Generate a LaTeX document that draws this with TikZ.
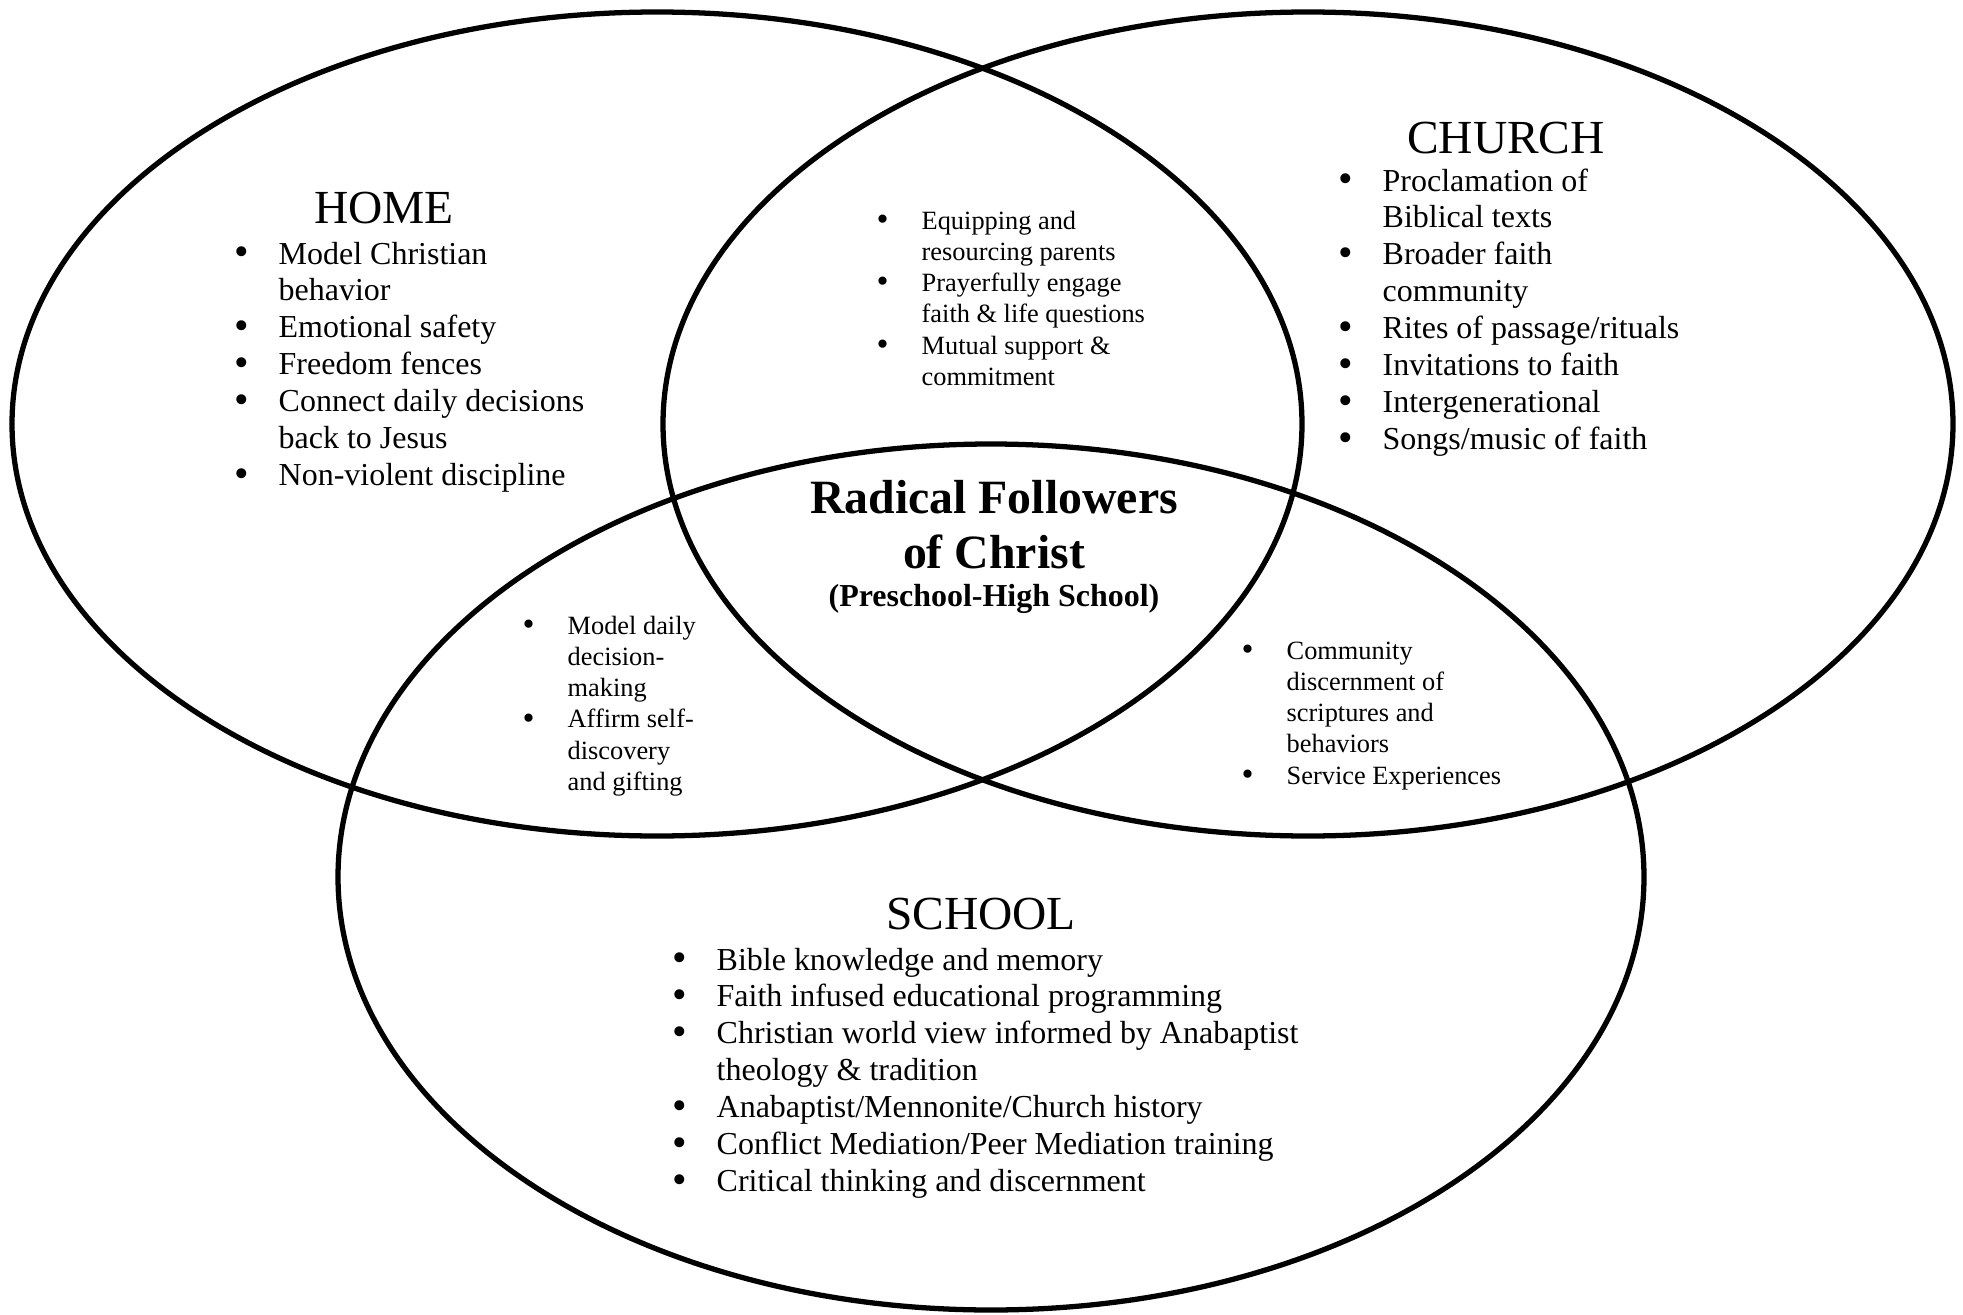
\documentclass[tikz,border=0pt]{standalone}
\usepackage{fontspec}
\setmainfont{Liberation Serif}
\usetikzlibrary{positioning}

\tikzstyle{ring} = [draw, line width=1.5pt]
\tikzstyle{head} = [inner sep=0pt, anchor=base, font=\fontsize{13.5}{16}\selectfont]
\tikzstyle{list} = [inner sep=0pt, anchor=base west, font=\fontsize{9.1}{10.52}\selectfont]
\tikzstyle{slist} = [inner sep=0pt, anchor=base west, font=\fontsize{7.5}{8.9}\selectfont]
\tikzstyle{title} = [inner sep=0pt, anchor=base, font=\bfseries\fontsize{13.6}{15.6}\selectfont]
\tikzstyle{sub} = [inner sep=0pt, anchor=base, font=\bfseries\fontsize{9.1}{10.4}\selectfont]

\newcommand{\bul}{\raisebox{-0.1ex}{\scalebox{1.3}{\textbullet}}}

\begin{document}
\begin{tikzpicture}[x=0.1mm, y=-0.1mm]
  \def\bw{4.4mm}
  \def\sbw{4.5mm}

  \useasboundingbox (0,0) rectangle (1963,1315);

  % the three circles
  \draw[ring] (657,424) ellipse [x radius=64.5mm, y radius=41.2mm];
  \draw[ring] (1308,424) ellipse [x radius=64.5mm, y radius=41.2mm];
  \draw[ring] (991,877) ellipse [x radius=65.3mm, y radius=43.3mm];

  % headings
  \node[head] (home) at (384,223) {HOME};
  \node[head] (church) at (1506,153) {CHURCH};
  \node[head] (school) at (981,929) {SCHOOL};

  \node[list] (home_l) at (234,264) {\begin{tabular}[t]{@{}p{\bw}@{}l@{}}
    \bul & Model Christian\\
         & behavior\\
    \bul & Emotional safety\\
    \bul & Freedom fences\\
    \bul & Connect daily decisions\\
         & back to Jesus\\
    \bul & Non-violent discipline
  \end{tabular}};

  \node[list] (church_l) at (1338,191) {\begin{tabular}[t]{@{}p{\bw}@{}l@{}}
    \bul & Proclamation of\\
         & Biblical texts\\
    \bul & Broader faith\\
         & community\\
    \bul & Rites of passage/rituals\\
    \bul & Invitations to faith\\
    \bul & Intergenerational\\
    \bul & Songs/music of faith
  \end{tabular}};

  \node[list] (school_l) at (672,970) {\begin{tabular}[t]{@{}p{\bw}@{}l@{}}
    \bul & Bible knowledge and memory\\
    \bul & Faith infused educational programming\\
    \bul & Christian world view informed by Anabaptist\\
         & theology \& tradition\\
    \bul & Anabaptist/Mennonite/Church history\\
    \bul & Conflict Mediation/Peer Mediation training\\
    \bul & Critical thinking and discernment
  \end{tabular}};

  % overlaps
  \node[slist] (hc_l) at (876,229) {\begin{tabular}[t]{@{}p{\sbw}@{}l@{}}
    \bul & Equipping and\\
         & resourcing parents\\
    \bul & Prayerfully engage\\
         & faith \& life questions\\
    \bul & Mutual support \&\\
         & commitment
  \end{tabular}};

  \node[slist] (hs_l) at (522,634) {\begin{tabular}[t]{@{}p{\sbw}@{}l@{}}
    \bul & Model daily\\
         & decision-\\
         & making\\
    \bul & Affirm self-\\
         & discovery\\
         & and gifting
  \end{tabular}};

  \node[slist] (cs_l) at (1241,659) {\begin{tabular}[t]{@{}p{\sbw}@{}l@{}}
    \bul & Community\\
         & discernment of\\
         & scriptures and\\
         & behaviors\\
    \bul & Service Experiences
  \end{tabular}};

  % centre
  \node[title] (rad) at (994,513) {Radical Followers};
  \node[title] (rad2) at (994,568) {of Christ};
  \node[sub] (age) at (994,606) {(Preschool-High School)};
\end{tikzpicture}
\end{document}
